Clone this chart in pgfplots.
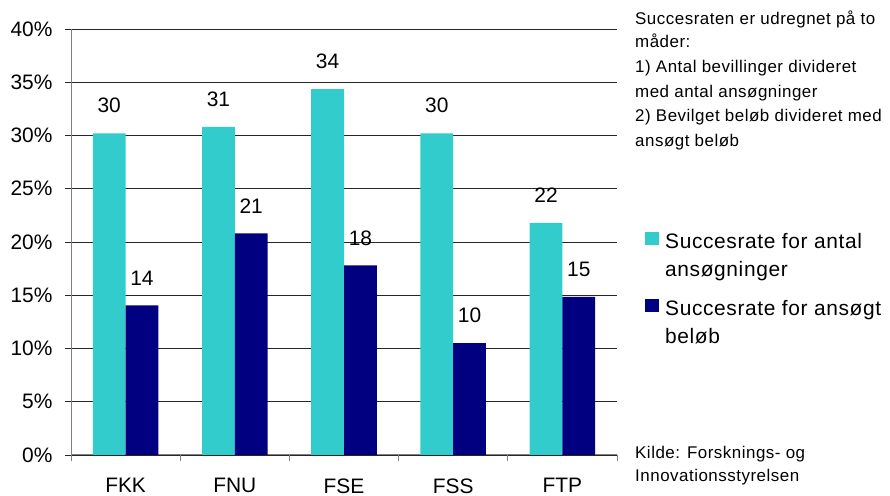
\documentclass[border=0pt]{standalone}
\usepackage{pgfplots}
\pgfplotsset{compat=1.18}
\usepackage{fontspec}
\setmainfont{Liberation Sans}
\newfontfamily\spaced[LetterSpace=3]{Liberation Sans}
\definecolor{tealbar}{HTML}{33CCCC}
\definecolor{navybar}{HTML}{000080}
\pgfplotsset{sqlegend/.style={legend image code/.code={\fill[##1] (0bp,-3bp) rectangle (14bp,10bp);}}}
\begin{document}
\begin{tikzpicture}[x=1bp,y=1bp]
\path[use as bounding box] (0,0) rectangle (890,496);
\begin{axis}[
  at={(71bp,41bp)}, anchor=south west,
  width=546bp, height=426bp, scale only axis,
  xmin=-0.5, xmax=4.5, ymin=0, ymax=40,
  axis lines*=left,
  axis line style={gray, line width=1bp},
  xtick={0,1,2,3,4}, xticklabels={FKK,FNU,FSE,FSS,FTP},
  minor xtick={-0.5,0.5,1.5,2.5,3.5,4.5},
  ytick={0,5,...,40}, yticklabel={\pgfmathprintnumber{\tick}\%},
  ymajorgrids, grid style={black!85, line width=0.75bp},
  tick align=outside, major tick length=6bp, minor tick length=6bp,
  major x tick style={draw=none},
  minor x tick style={gray, line width=1bp},
  ytick style={black!85, line width=0.75bp},
  ticklabel style={font=\fontsize{21}{25}\selectfont},
  /pgf/number format/assume math mode=true,
  yticklabel style={xshift=-9bp},
  xticklabel style={yshift=-14bp},
  nodes near coords, point meta=explicit symbolic,
  nodes near coords style={font=\fontsize{21}{25}\selectfont, anchor=south, inner sep=0pt, yshift=20bp},
  legend style={at={(axis description cs:1.0513,0.5244)}, anchor=north west, draw=none, fill=none, inner sep=0pt, font=\spaced\fontsize{21}{28}\selectfont, row sep=46bp, column sep=4bp},
  legend cell align=left,
]
\addplot[ybar, bar width=0.3, bar shift=-0.15, fill=tealbar, draw=none, sqlegend,
  every node near coord/.append style={xshift=-16.4bp}]
  coordinates {(0,30.2)[30] (1,30.8)[31] (2,34.35)[34] (3,30.2)[30] (4,21.8)[22]};
\addlegendentry{\parbox[t]{230bp}{Succesrate for antal\\ansøgninger}}
\addplot[ybar, bar width=0.3, bar shift=0.15, fill=navybar, draw=none, sqlegend,
  every node near coord/.append style={xshift=16.4bp}]
  coordinates {(0,14.06)[14] (1,20.8)[21] (2,17.8)[18] (3,10.5)[10] (4,14.85)[15]};
\addlegendentry{\parbox[t]{230bp}{Succesrate for ansøgt\\beløb}}
\end{axis}
\begin{scope}[every node/.style={anchor=base west, inner sep=0pt, font=\spaced\fontsize{17}{24}\selectfont}]
\node at (635,471) {Succesraten er udregnet på to};
\node at (635,448) {måder:};
\node at (635,423) {1) Antal bevillinger divideret};
\node at (635,398) {med antal ansøgninger};
\node at (635,374) {2) Bevilget beløb divideret med};
\node at (635,349) {ansøgt beløb};
\node at (635,37) {Kilde: Forsknings- og};
\node at (635,14) {Innovationsstyrelsen};
\end{scope}
\end{tikzpicture}
\end{document}
